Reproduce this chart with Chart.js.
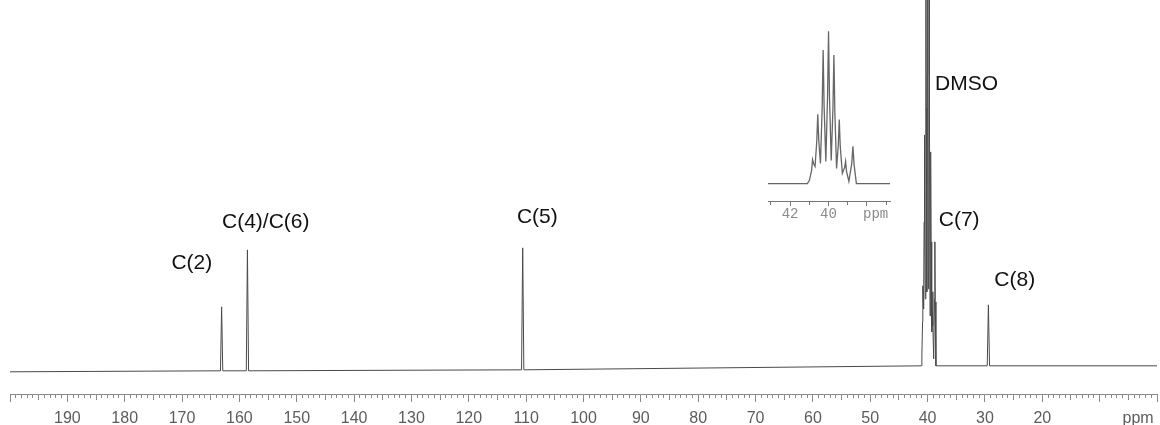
<!DOCTYPE html>
<html>
<head>
<meta charset="utf-8">
<script src="https://cdn.jsdelivr.net/npm/chart.js@4/dist/chart.umd.min.js"></script>
<style>
  html, body { margin: 0; padding: 0; background: #fff; }
  #wrap { position: relative; width: 1160px; height: 425px; }
  #main { position: absolute; left: 0; top: 0; }
  #inset { position: absolute; left: 740px; top: 0; }
</style>
</head>
<body>
<div id="wrap">
  <canvas id="main" width="1160" height="425"></canvas>
  <canvas id="inset" width="180" height="225"></canvas>
</div>
<script>
// 13C spectrum: shift (ppm) and intensity (arbitrary units)
const spectrumPpm = [200, 163.3, 163.1, 162.9, 158.8, 158.6, 158.4, 110.8, 110.6, 110.4,
  41.10, 41.00, 40.88, 40.83, 40.78, 40.70, 40.61, 40.56, 40.51, 40.42, 40.33, 40.28, 40.23,
  40.14, 40.05, 40.00, 39.95, 39.86, 39.77, 39.72, 39.67, 39.58, 39.49, 39.44, 39.39,
  39.28, 39.16, 39.11, 39.06, 38.94, 38.79, 38.73, 38.67, 38.55,
  29.6, 29.4, 29.2, 0];
const spectrumIntensity = [-4, -3, 61, -3, -3, 118, -3, -2, 120, -2,
  2, 12, 46, 82, 69, 59, 146, 233, 149, 69, 257, 448, 260,
  76, 293, 511, 293, 79, 253, 431, 240, 52, 133, 216, 126,
  36, 56, 76, 42, 9, 69, 126, 66, 2,
  2, 63, 2, 2];

// peak assignments and where their captions sit
const peakLabels = ['C(2)', 'C(4)/C(6)', 'C(5)', 'DMSO', 'C(7)', 'C(8)'];
const labelPpm = [168.3, 155.4, 108.05, 33.2, 34.5, 24.8];
const labelHeight = [105, 146, 151, 284, 148, 88];

// axis labels
const mainTickValues = [190, 180, 170, 160, 150, 140, 130, 120, 110, 100, 90, 80, 70, 60, 50, 40, 30, 20, 3.3];
const mainTickLabels = ['190', '180', '170', '160', '150', '140', '130', '120', '110', '100', '90', '80', '70', '60', '50', '40', '30', '20', 'ppm'];
const insetTickValues = [42, 40, 37.55];
const insetTickLabels = ['42', '40', 'ppm'];

const axisGrey = '#8a8a8a';
const sansFont = '"Liberation Sans", Arial, sans-serif';

// tick marks are drawn as a dash so that the labels keep one offset
function tickDash(v, major, mid, sizes) {
    const r = Math.round(v);
    if (Math.abs(v - r) > 1e-6) return [];
    if (r % major === 0) return [sizes[0], 40];
    if (mid && r % mid === 0) return [sizes[1], 40];
    return [sizes[2], 40];
}

function labelFor(values, labels) {
    return function (v) {
        const i = values.findIndex(t => Math.abs(t - v) < 1e-6);
        return i >= 0 ? labels[i] : '';
    };
}

function isLabelOnly(values, labels, v) {
    const i = values.findIndex(t => Math.abs(t - v) < 1e-6);
    return i >= 0 && labels[i] === 'ppm';
}

const peakLabelPlugin = {
    id: 'peakLabels',
    afterDatasetsDraw(chart) {
        const { ctx, scales: { x, y } } = chart;
        ctx.save();
        ctx.font = '21px ' + sansFont;
        ctx.fillStyle = '#111';
        ctx.textAlign = 'center';
        ctx.textBaseline = 'middle';
        peakLabels.forEach((t, i) => {
            ctx.fillText(t, x.getPixelForValue(labelPpm[i]), y.getPixelForValue(labelHeight[i]));
        });
        ctx.restore();
    }
};

const points = spectrumPpm.map((p, i) => ({ x: p, y: spectrumIntensity[i] }));

// main spectrum
new Chart(document.getElementById('main'), {
    type: 'line',
    data: {
        datasets: [{
            data: points,
            borderColor: '#4a4a4a',
            borderWidth: 1,
            pointRadius: 0,
            pointHoverRadius: 0,
            tension: 0
        }]
    },
    options: {
        responsive: false,
        animation: false,
        devicePixelRatio: 1,
        layout: { autoPadding: false, padding: { left: 10, right: 3, top: 0, bottom: -3 } },
        plugins: { legend: { display: false }, tooltip: { enabled: false } },
        scales: {
            x: {
                type: 'linear', min: 0, max: 200, reverse: true,
                border: { color: axisGrey, width: 1 },
                grid: {
                    drawOnChartArea: false,
                    tickLength: 14,
                    tickColor: c => (c.tick && isLabelOnly(mainTickValues, mainTickLabels, c.tick.value)) ? 'rgba(0,0,0,0)' : axisGrey,
                    tickBorderDash: c => c.tick ? tickDash(c.tick.value, 10, 5, [7, 5, 3]) : []
                },
                afterBuildTicks: s => { s.ticks.splice(5, 0, { value: 3.3 }); },
                ticks: {
                    stepSize: 1, autoSkip: false, maxRotation: 0, minRotation: 0, padding: 0,
                    color: '#5c5c5c', font: { size: 16, family: sansFont },
                    callback: labelFor(mainTickValues, mainTickLabels)
                }
            },
            y: { display: false, min: -27, max: 368 }
        }
    },
    plugins: [peakLabelPlugin]
});

// expanded DMSO region
new Chart(document.getElementById('inset'), {
    type: 'line',
    data: {
        datasets: [{
            data: points,
            borderColor: '#666',
            borderWidth: 1.3,
            pointRadius: 0,
            pointHoverRadius: 0,
            tension: 0
        }]
    },
    options: {
        responsive: false,
        animation: false,
        devicePixelRatio: 1,
        layout: { autoPadding: false, padding: { left: 28, right: 30, top: 0, bottom: 2 } },
        plugins: { legend: { display: false }, tooltip: { enabled: false } },
        scales: {
            x: {
                type: 'linear', min: 36.8, max: 43.15, reverse: true,
                border: { color: '#777', width: 1 },
                grid: {
                    drawOnChartArea: false,
                    tickLength: 5,
                    tickColor: c => (c.tick && isLabelOnly(insetTickValues, insetTickLabels, c.tick.value)) ? 'rgba(0,0,0,0)' : '#777',
                    tickBorderDash: c => c.tick ? tickDash(c.tick.value, 2, 0, [5, 3, 3]) : []
                },
                afterBuildTicks: s => { s.ticks.splice(2, 0, { value: 37.55 }); },
                ticks: {
                    stepSize: 1, includeBounds: false, autoSkip: false, maxRotation: 0, minRotation: 0, padding: 0,
                    color: '#8a8a8a', font: { size: 14, family: '"Liberation Mono", "Courier New", monospace' },
                    callback: labelFor(insetTickValues, insetTickLabels)
                }
            },
            y: { display: false, min: -57, max: 615 }
        }
    }
});
</script>
</body>
</html>
